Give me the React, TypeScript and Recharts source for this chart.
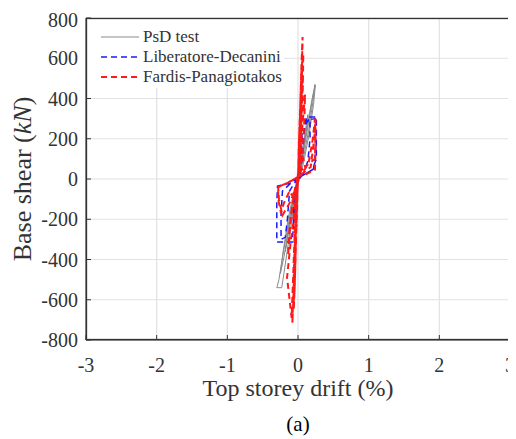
import React from "react";
import { LineChart, Line, XAxis, YAxis, CartesianGrid } from "recharts";

// Hysteresis: base shear (kN) against top storey drift (%)
const driftTicks = [-3, -2, -1, 0, 1, 2, 3];
const shearTicks = [-800, -600, -400, -200, 0, 200, 400, 600, 800];

// [drift %, shear kN]
const psdTest: [number, number][] = [
  [0, 0], [0.02, 60], [0.04, 140], [0.02, 70], [-0.01, -10], [-0.04, -100],
  [-0.06, -170], [-0.03, -80], [0, 0], [0.05, 110], [0.1, 230], [0.14, 320],
  [0.12, 250], [0.07, 120], [0.02, 30], [-0.04, -60], [-0.1, -190], [-0.15, -300],
  [-0.18, -360], [-0.14, -250], [-0.08, -110], [-0.01, -10], [0.06, 120],
  [0.13, 260], [0.19, 380], [0.23, 450], [0.24, 470], [0.21, 380], [0.15, 240],
  [0.08, 110], [0.02, 20], [-0.06, -80], [-0.14, -230], [-0.22, -390],
  [-0.27, -500], [-0.3, -540], [-0.23, -540], [-0.17, -400], [-0.1, -230],
  [-0.04, -90], [0.02, 10], [0.09, 160], [0.16, 300], [0.21, 410], [0.245, 465],
  [0.22, 370], [0.16, 230], [0.09, 100], [0.03, 10], [-0.05, -90], [-0.13, -250],
  [-0.2, -390], [-0.25, -470], [-0.21, -360], [-0.14, -200], [-0.07, -80], [0, 0],
];

const liberatoreDecanini: [number, number][] = [
  [0, 0], [0.02, 90], [0.04, 170], [0.06, 230], [0.05, 140], [0.03, 40],
  [-0.01, -20], [-0.03, -110], [-0.05, -200], [-0.07, -250], [-0.06, -150],
  [-0.04, -40], [0, 0], [0.04, 60], [0.07, 190], [0.1, 270], [0.17, 300],
  [0.17, 200], [0.14, 90], [0.08, 30], [-0.05, -20], [-0.12, -60], [-0.15, -200],
  [-0.18, -290], [-0.24, -300], [-0.24, -180], [-0.22, -60], [-0.1, -20],
  [0.03, 20], [0.06, 110], [0.09, 250], [0.12, 308], [0.26, 308], [0.26, 200],
  [0.26, 100], [0.2, 45], [0.05, 15], [-0.02, -20], [-0.05, -150], [-0.08, -313],
  [-0.3, -313], [-0.3, -120], [-0.29, -35], [-0.1, -20], [0, -5], [0.04, 40],
  [0.07, 180], [0.1, 290], [0.24, 300], [0.25, 150], [0.22, 50], [0.08, 20], [0, 0],
];

const fardisPanagiotakos: [number, number][] = [
  [0, 0], [0.01, 120], [0.02, 260], [0.015, 130], [0, 20], [-0.01, -110],
  [-0.02, -240], [-0.015, -120], [0, -10], [0.02, 200], [0.035, 400], [0.05, 580],
  [0.065, 706], [0.06, 600], [0.05, 450], [0.035, 260], [0.02, 110], [0, 30],
  [-0.02, -80], [-0.04, -280], [-0.055, -480], [-0.07, -640], [-0.08, -715],
  [-0.07, -600], [-0.055, -420], [-0.04, -240], [-0.02, -90], [0, 20], [0.02, 180],
  [0.04, 380], [0.06, 560], [0.075, 620], [0.07, 500], [0.06, 330], [0.04, 150],
  [0.1, 60], [0.24, 100], [0.25, 300], [0.23, 200], [0.18, 60], [0, 10],
  [-0.15, -20], [-0.28, -40], [-0.27, -100], [-0.22, -180], [-0.12, -120],
  [-0.05, -60], [-0.03, -100], [-0.1, -300], [-0.155, -490], [-0.09, -690],
  [-0.07, -500], [-0.05, -300], [-0.02, -50], [0.02, 40], [0.04, 200], [0.06, 420],
  [0.07, 520], [0.065, 380], [0.05, 200], [0.03, 60], [0.12, 25], [0.24, 45],
  [0.25, 160], [0.24, 300], [0.21, 200], [0.15, 80], [0.05, 20], [-0.1, -10],
  [-0.28, -40], [-0.28, -100], [-0.24, -170], [-0.2, -120], [-0.12, -60],
  [-0.05, -100], [-0.03, -300], [-0.045, -520], [-0.06, -650], [-0.05, -450],
  [-0.03, -230], [-0.01, -60], [0.02, 80], [0.04, 300], [0.055, 520], [0.06, 640],
  [0.055, 480], [0.04, 260], [0.02, 90], [0, 0], [0.01, 150], [0.03, 350],
  [0.045, 500], [0.05, 560], [0.045, 420], [0.03, 220], [0.015, 70], [-0.005, -40],
  [-0.02, -200], [-0.035, -400], [-0.05, -560], [-0.065, -620], [-0.06, -480],
  [-0.045, -300], [-0.025, -120], [0, 0], [0.03, 120], [0.07, 300], [0.1, 420],
  [0.09, 300], [0.07, 150], [0.03, 40], [-0.04, -40], [-0.1, -180], [-0.14, -380],
  [-0.12, -250], [-0.07, -120], [0, 0],
];

const SERIF = "'Liberation Serif', 'Times New Roman', serif";
const INK = "#333";

const series = [
  { name: "PsD test", points: psdTest, color: "#8a8a8a", width: 1, dash: undefined },
  { name: "Liberatore-Decanini", points: liberatoreDecanini, color: "#1a1aff", width: 1.5, dash: "6 4" },
  { name: "Fardis-Panagiotakos", points: fardisPanagiotakos, color: "#ff1a1a", width: 2, dash: "6 4" },
];

const toRows = (pts: [number, number][]) => pts.map(([x, y]) => ({ x, y }));

// chart size and plot margins
const W = 508;
const H = 431;
const M = { top: 10, right: 6, bottom: 0, left: 0 };
const Y_AXIS_W = 78;
const X_AXIS_H = 99;
const PLOT_W = W - M.right - Y_AXIS_W;
const PLOT_H = H - M.top - X_AXIS_H;

// white legend panel in the upper-left corner of the plot
function LegendBox() {
  return (
    <div
      style={{
        position: "absolute",
        left: Y_AXIS_W + 1,
        top: M.top + 1,
        width: 197,
        height: 69,
        background: "#fff",
        fontFamily: SERIF,
        fontSize: 17,
        color: INK,
        pointerEvents: "none",
      }}
    >
      {series.map((s, i) => (
        <div
          key={s.name}
          style={{
            position: "absolute",
            left: 13,
            top: 8 + i * 20,
            height: 20,
            display: "flex",
            alignItems: "center",
            whiteSpace: "nowrap",
          }}
        >
          <svg width={40} height={10} style={{ marginRight: 3 }}>
            <line x1={1} y1={5} x2={39} y2={5} stroke={s.color} strokeWidth={s.width} strokeDasharray={s.dash} />
          </svg>
          <span>{s.name}</span>
        </div>
      ))}
    </div>
  );
}

// box around the plot area, drawn as an svg overlay so it sits above the legend panel
function PlotFrame() {
  return (
    <svg
      width={W}
      height={H}
      style={{ position: "absolute", left: 0, top: 0, pointerEvents: "none", overflow: "visible" }}
    >
      <rect
        x={Y_AXIS_W + 0.5}
        y={M.top + 0.5}
        width={PLOT_W - 1}
        height={PLOT_H - 1}
        fill="none"
        stroke={INK}
        strokeWidth={1.3}
      />
    </svg>
  );
}

function XLabel(props: any) {
  const { x, y, width } = props.viewBox;
  const cx = x + width / 2;
  return (
    <g fontFamily={SERIF} fill={INK} textAnchor="middle">
      <text x={cx} y={y + 56} fontSize={24}>Top storey drift (%)</text>
      <text x={cx} y={y + 91} fontSize={21} fill="#000">(a)</text>
    </g>
  );
}

function YLabel(props: any) {
  const { y, height } = props.viewBox;
  const cy = y + height / 2;
  return (
    <text
      x={14}
      y={cy}
      transform={`rotate(-90, 14, ${cy})`}
      textAnchor="middle"
      dominantBaseline="central"
      fontFamily={SERIF}
      fontSize={26}
      fill={INK}
    >
      Base shear (<tspan fontStyle="italic">kN</tspan>)
    </text>
  );
}

const tickStyle = { fontFamily: SERIF, fontSize: 20, fill: INK };

export default function App() {
  return (
    <div style={{ position: "relative", width: W, height: H }}>
      <LineChart width={W} height={H} margin={M}>
        <CartesianGrid stroke="#e2e2e2" strokeWidth={1.2} />
        <XAxis
          type="number"
          dataKey="x"
          domain={[-3, 3]}
          ticks={driftTicks}
          allowDataOverflow
          height={X_AXIS_H}
          stroke={INK}
          tick={tickStyle}
          tickSize={-5}
          tickMargin={23}
          label={XLabel}
        />
        <YAxis
          type="number"
          domain={[-800, 800]}
          ticks={shearTicks}
          allowDataOverflow
          width={Y_AXIS_W}
          stroke={INK}
          tick={tickStyle}
          tickSize={-5}
          tickMargin={13}
          label={YLabel}
        />
        {series.map((s) => (
          <Line
            key={s.name}
            name={s.name}
            data={toRows(s.points)}
            dataKey="y"
            type="linear"
            stroke={s.color}
            strokeWidth={s.width}
            strokeDasharray={s.dash}
            dot={false}
            isAnimationActive={false}
          />
        ))}
      </LineChart>
      <LegendBox />
      <PlotFrame />
    </div>
  );
}
